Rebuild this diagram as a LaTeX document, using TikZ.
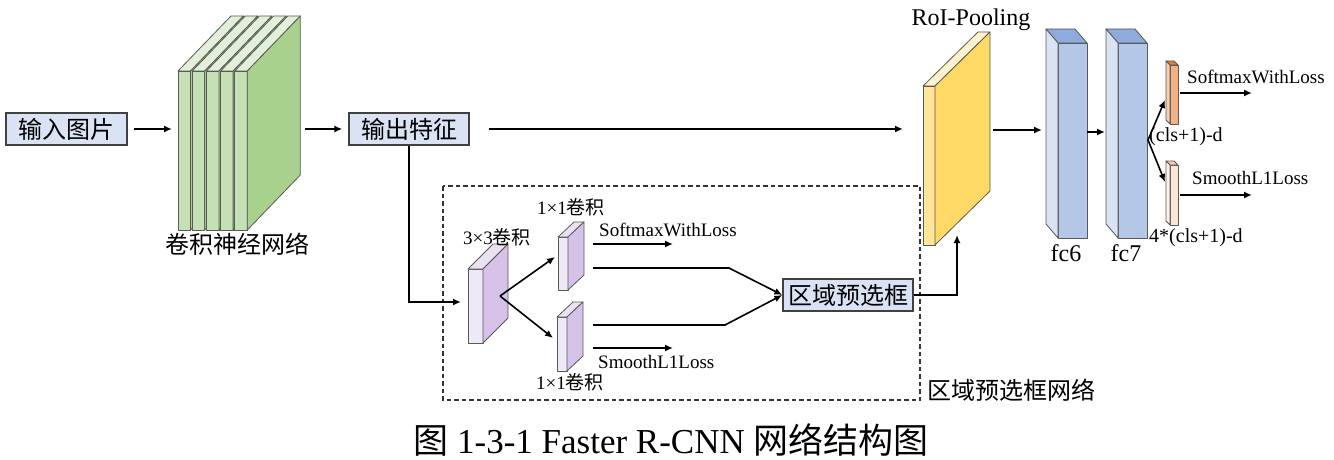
\documentclass[tikz,border=0pt]{standalone}
\usepackage{fontspec}
\setmainfont{Liberation Serif}
\newfontfamily\cjk{Noto Sans CJK SC}
\usetikzlibrary{arrows.meta}
\definecolor{boxblue}{HTML}{DAE3F3}
\definecolor{boxline}{HTML}{404040}
\definecolor{gfront}{HTML}{C5E0B4}
\definecolor{gside}{HTML}{A9D18E}
\definecolor{gtop}{HTML}{E2F0D9}
\definecolor{pfront}{HTML}{EEE9F6}
\definecolor{pside}{HTML}{D6C2E8}
\definecolor{ptop}{HTML}{EAE2F3}
\definecolor{yfront}{HTML}{FFE699}
\definecolor{yside}{HTML}{FFD966}
\definecolor{ytop}{HTML}{FFF2CC}
\definecolor{bfront}{HTML}{B4C7E7}
\definecolor{bside}{HTML}{DAE3F3}
\definecolor{btop}{HTML}{8FAADC}
\definecolor{ofront}{HTML}{F4B183}
\definecolor{oside}{HTML}{F8CBAD}
\definecolor{otop}{HTML}{ED7D31}
\definecolor{kfront}{HTML}{FBE5D6}
\definecolor{kside}{HTML}{FDF0E7}
\definecolor{ktop}{HTML}{F8CBAD}
\tikzset{
  cubeline/.style={draw=black!65, line width=0.8pt, line join=round},
  tbox/.style={draw=boxline, fill=boxblue, line width=1.3pt, inner sep=0pt,
    font=\cjk\fontsize{24}{28}\selectfont},
  arr/.style={-{Latex[length=8pt,width=7pt]}, line width=1.6pt},
  lbl/.style={inner sep=0pt, font=\fontsize{19}{22}\selectfont},
  biglbl/.style={inner sep=0pt, font=\fontsize{24}{28}\selectfont},
}
\newcommand{\cubR}[9]{%
  \filldraw[fill=#7,cubeline] (#1,#2) rectangle (#3,#4);
  \filldraw[fill=#9,cubeline] (#1,#2) -- ({#1+#5},{#2+#6}) -- ({#3+#5},{#2+#6}) -- (#3,#2) -- cycle;
  \filldraw[fill=#8,cubeline] (#3,#2) -- ({#3+#5},{#2+#6}) -- ({#3+#5},{#4+#6}) -- (#3,#4) -- cycle;}
\newcommand{\cubL}[9]{%
  \filldraw[fill=#7,cubeline] (#1,#2) rectangle (#3,#4);
  \filldraw[fill=#9,cubeline] (#1,#2) -- ({#1+#5},{#2+#6}) -- ({#3+#5},{#2+#6}) -- (#3,#2) -- cycle;
  \filldraw[fill=#8,cubeline] (#1,#2) -- ({#1+#5},{#2+#6}) -- ({#1+#5},{#4+#6}) -- (#1,#4) -- cycle;}
\begin{document}
\begin{tikzpicture}[x=1pt,y=-1pt]
\useasboundingbox (0,0) rectangle (1334,460);

% ---- 3D blocks ----
\foreach \x in {178,192.2,206.4,220.6,234.8}{
  \cubR{\x}{71}{\x+12.5}{230}{53}{-55}{gfront}{gside}{gtop}
}
\cubR{468}{269}{483}{343}{25}{-25}{pfront}{pside}{ptop}
\cubR{558}{237}{568}{290}{16}{-15}{pfront}{pside}{ptop}
\cubR{557}{317}{567}{371}{16}{-15}{pfront}{pside}{ptop}
\cubR{923}{86}{935}{245}{55}{-54}{yfront}{yside}{ytop}
\cubL{1058}{43}{1087}{238}{-12}{-14}{bfront}{bside}{btop}
\cubL{1118}{43}{1147}{238}{-12}{-14}{bfront}{bside}{btop}
\cubL{1170}{65}{1178}{124}{-4}{-4}{ofront}{oside}{otop}
\cubL{1170}{165}{1178}{225}{-4}{-4}{kfront}{kside}{ktop}

% ---- dashed region ----
\draw[dashed, line width=1.2pt, dash pattern=on 4.5pt off 3pt, black!80] (443,186) rectangle (920,400);

% ---- text boxes ----
\node[tbox, minimum width=121pt, minimum height=32pt] (in) at (66.5,129) {输入图片};
\node[tbox, minimum width=120pt, minimum height=32pt] (feat) at (409,129) {输出特征};
\node[tbox, minimum width=130pt, minimum height=32pt] (rpn) at (848,295) {区域预选框};

% ---- connection points ----
\coordinate (cnnIn) at (172,129);
\coordinate (cnnOut) at (305,129);
\coordinate (roiIn) at (903,129);
\coordinate (cthIn) at (461,302);
\coordinate (cthOut) at (500,296);
\coordinate (caIn) at (555,257);
\coordinate (cbIn) at (553,338);
\coordinate (caSm) at (593,244);
\coordinate (caSmEnd) at (673,244);
\coordinate (caOut) at (593,268);
\coordinate (caBend) at (729,268);
\coordinate (cbOut) at (593,325);
\coordinate (cbBend) at (725,325);
\coordinate (cbSl) at (593,348);
\coordinate (cbSlEnd) at (673,348);
\coordinate (roiUp) at (957,235);
\coordinate (roiOut) at (993,130);
\coordinate (fcsixIn) at (1042,130);
\coordinate (fcsixOut) at (1087,132);
\coordinate (fcsevIn) at (1105,132);
\coordinate (fcsevOut) at (1148,140);
\coordinate (clsIn) at (1165,100);
\coordinate (regIn) at (1165,182);
\coordinate (clsOut) at (1180,93);
\coordinate (clsEnd) at (1252,93);
\coordinate (regOut) at (1180,195);
\coordinate (regEnd) at (1252,195);

% ---- connectors ----
\draw[arr, shorten <=6pt] (in) -- (cnnIn);
\draw[arr, shorten >=6pt] (cnnOut) -- (feat);
\draw[arr, shorten <=19pt] (feat) -- (roiIn);
\draw[arr] (feat.south) |- (cthIn);
\draw[arr] (cthOut) -- (caIn);
\draw[arr] (cthOut) -- (cbIn);
\draw[arr] (caSm) -- (caSmEnd);
\draw[arr] (cbSl) -- (cbSlEnd);
\draw[arr] (caOut) -- (caBend) -- (rpn.west);
\draw[arr] (cbOut) -- (cbBend) -- (rpn.west);
\draw[arr] (rpn.east) -| (roiUp);
\draw[arr] (roiOut) -- (fcsixIn);
\draw[arr] (fcsixOut) -- (fcsevIn);
\draw[arr] (fcsevOut) -- (clsIn);
\draw[arr] (fcsevOut) -- (regIn);
\draw[arr] (clsOut) -- (clsEnd);
\draw[arr] (regOut) -- (regEnd);

% ---- labels ----
\node[inner sep=0pt, font=\cjk\fontsize{24}{28}\selectfont] (cnnlbl) at (237,244) {卷积神经网络};
\node[lbl] (cthlbl) at (497,237) {3×3{\cjk 卷积}};
\node[lbl] (calbl) at (571,207) {1×1{\cjk 卷积}};
\node[lbl] (cblbl) at (570,382) {1×1{\cjk 卷积}};
\node[lbl, anchor=west] (smlbl) at (599,230) {SoftmaxWithLoss};
\node[lbl, anchor=west] (sllbl) at (598,362) {SmoothL1Loss};
\node[inner sep=0pt, anchor=west, font=\cjk\fontsize{24}{28}\selectfont] (rpnlbl) at (927,390) {区域预选框网络};
\node[biglbl] (roilbl) at (971,20) {RoI-Pooling};
\node[biglbl] (fcsixlbl) at (1066,253) {fc6};
\node[biglbl] (fcsevlbl) at (1126,253) {fc7};
\node[lbl, anchor=west] (smrlbl) at (1187,77) {SoftmaxWithLoss};
\node[lbl, anchor=west, font=\fontsize{20}{23}\selectfont] (clslbl) at (1149,137) {(cls+1)-d};
\node[lbl, anchor=west] (slrlbl) at (1192,178) {SmoothL1Loss};
\node[lbl, anchor=west, font=\fontsize{20}{23}\selectfont] (reglbl) at (1149,238) {4*(cls+1)-d};
\node[inner sep=0pt, font=\fontsize{35}{40}\selectfont] (cap) at (671,440) {{\cjk 图} 1-3-1 Faster R-CNN {\cjk 网络结构图}};
\end{tikzpicture}
\end{document}
